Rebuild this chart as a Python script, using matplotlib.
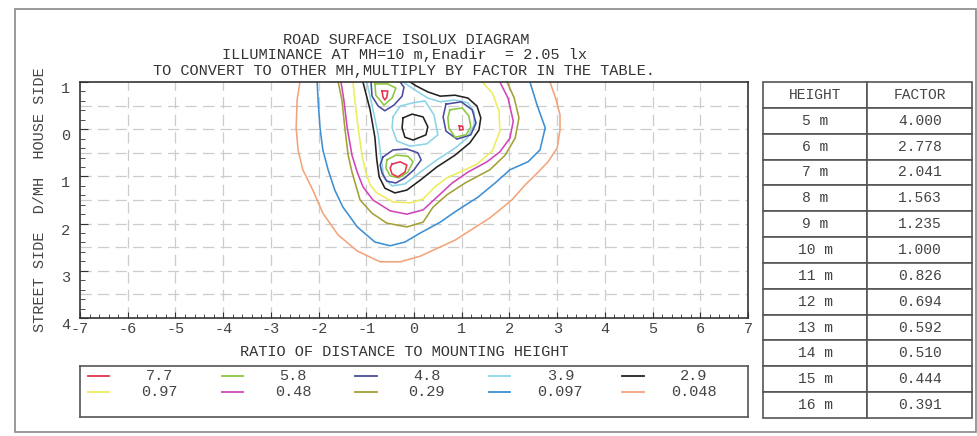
import matplotlib
matplotlib.use('Agg')
import matplotlib.pyplot as plt
from matplotlib.patches import Rectangle
from matplotlib.ticker import MultipleLocator, FixedLocator, FixedFormatter
import numpy as np

plt.rcParams['font.family'] = ['Liberation Mono', 'DejaVu Sans Mono']
plt.rcParams['axes.unicode_minus'] = False

# isolux levels (lx), legend order and colours
levels = [7.7, 5.8, 4.8, 3.9, 2.9, 0.97, 0.48, 0.29, 0.097, 0.048]
level_labels = ['7.7', '5.8', '4.8', '3.9', '2.9', '0.97', '0.48', '0.29', '0.097', '0.048']
colors = ['#e5334f', '#8cc63e', '#4b4b9e', '#8ad4e8', '#222222',
          '#eded5a', '#d046b8', '#a3a034', '#3d8fd4', '#f2a47a']

# mounting height table
heights = ['5 m', '6 m', '7 m', '8 m', '9 m', '10 m', '11 m', '12 m', '13 m', '14 m', '15 m', '16 m']
factors = ['4.000', '2.778', '2.041', '1.563', '1.235', '1.000', '0.826', '0.694', '0.592', '0.510', '0.444', '0.391']

# isolux lines, (x/MH, d/MH); y=-1 is the house-side edge
lux_77 = [
    [(-0.67, -0.81), (-0.55, -0.81), (-0.57, -0.68), (-0.61, -0.62), (-0.65, -0.68)],
    [(0.95, -0.07), (1.02, -0.06), (1.03, 0.01), (0.96, 0.02)],
    [(-0.46, 0.74), (-0.29, 0.69), (-0.15, 0.76), (-0.19, 0.91), (-0.34, 1.01), (-0.46, 0.95), (-0.50, 0.82)],
]
lux_58 = [
    [(-0.82, -0.96), (-0.80, -0.72), (-0.63, -0.51), (-0.46, -0.66), (-0.38, -0.87), (-0.55, -0.96)],
    [(0.75, -0.41), (1.01, -0.45), (1.15, -0.28), (1.19, -0.05), (1.09, 0.12), (0.86, 0.17), (0.73, -0.03), (0.71, -0.24)],
    [(-0.57, 0.65), (-0.38, 0.55), (-0.13, 0.57), (-0.02, 0.69), (-0.13, 0.91), (-0.31, 1.03), (-0.50, 0.99), (-0.59, 0.82)],
]
lux_48 = [
    [(-0.90, -1.00), (-0.88, -0.70), (-0.75, -0.49), (-0.61, -0.39), (-0.42, -0.51), (-0.25, -0.70), (-0.21, -0.89), (-0.29, -1.00)],
    [(0.67, -0.53), (0.99, -0.58), (1.22, -0.41), (1.30, -0.13), (1.19, 0.12), (0.90, 0.21), (0.67, 0.04), (0.61, -0.26)],
    [(-0.65, 0.59), (-0.44, 0.44), (-0.15, 0.42), (0.08, 0.50), (0.15, 0.65), (0.00, 0.86), (-0.19, 1.03),
     (-0.38, 1.14), (-0.57, 1.10), (-0.67, 0.93), (-0.71, 0.76)],
]
lux_39 = [
    [(-0.99, -1.00), (-0.88, -0.51), (-0.75, 0.12), (-0.69, 0.61), (-0.63, 1.03), (-0.46, 1.20), (-0.19, 1.16),
     (0.13, 0.91), (0.48, 0.65), (0.86, 0.40), (1.11, 0.19), (1.26, -0.09), (1.26, -0.36), (1.13, -0.56),
     (0.86, -0.62), (0.55, -0.58), (0.29, -0.66), (0.02, -0.83), (-0.23, -1.00)],
    [(-0.44, -0.26), (-0.29, -0.49), (-0.02, -0.56), (0.23, -0.60), (0.42, -0.30), (0.50, 0.12), (0.27, 0.31),
     (-0.08, 0.36), (-0.36, 0.25), (-0.46, -0.03)],
]
lux_29 = [
    [(-1.07, -1.00), (-0.92, -0.41), (-0.82, 0.17), (-0.78, 0.65), (-0.73, 1.01), (-0.61, 1.25), (-0.40, 1.35),
     (-0.15, 1.29), (0.13, 1.08), (0.48, 0.80), (0.86, 0.55), (1.17, 0.29), (1.36, 0.02), (1.40, -0.24),
     (1.32, -0.49), (1.13, -0.66), (0.86, -0.72), (0.55, -0.70), (0.29, -0.79), (0.04, -0.92), (-0.08, -1.00)],
    [(-0.23, -0.24), (-0.04, -0.32), (0.19, -0.26), (0.29, -0.05), (0.25, 0.12), (-0.02, 0.23), (-0.19, 0.17), (-0.25, -0.03)],
]
lux_097 = [
    [(-1.28, -1.00), (-1.24, -0.62), (-1.17, -0.03), (-1.09, 0.55), (-1.01, 0.91), (-0.92, 1.18), (-0.78, 1.35),
     (-0.44, 1.54), (-0.08, 1.56), (0.19, 1.48), (0.44, 1.22), (0.69, 1.03), (0.96, 0.91), (1.32, 0.74),
     (1.64, 0.46), (1.80, 0.04), (1.78, -0.39), (1.64, -0.77), (1.43, -1.00)],
]
lux_048 = [
    [(-1.53, -1.00), (-1.47, -0.62), (-1.40, -0.03), (-1.30, 0.55), (-1.19, 0.91), (-1.07, 1.22), (-0.86, 1.50),
     (-0.50, 1.73), (-0.15, 1.80), (0.19, 1.71), (0.48, 1.44), (0.80, 1.14), (1.13, 0.91), (1.53, 0.69),
     (1.80, 0.48), (2.01, 0.19), (2.08, -0.17), (1.97, -0.66), (1.80, -1.00)],
]
lux_029 = [
    [(-1.59, -1.00), (-1.51, -0.62), (-1.45, -0.03), (-1.38, 0.55), (-1.30, 0.91), (-1.13, 1.50), (-0.88, 1.78),
     (-0.57, 1.99), (-0.15, 2.07), (0.19, 1.97), (0.40, 1.65), (0.69, 1.39), (1.07, 1.14), (1.59, 0.86),
     (1.91, 0.55), (2.12, 0.19), (2.20, -0.24), (2.10, -0.66), (1.95, -1.00)],
]
lux_0097 = [
    [(-2.03, -1.00), (-2.01, -0.62), (-1.97, -0.03), (-1.91, 0.44), (-1.80, 0.86), (-1.66, 1.29), (-1.49, 1.65),
     (-1.19, 2.07), (-0.82, 2.39), (-0.50, 2.47), (-0.19, 2.39), (0.13, 2.20), (0.55, 1.97), (0.86, 1.75),
     (1.34, 1.44), (1.70, 1.14), (2.01, 0.86), (2.39, 0.69), (2.64, 0.44), (2.75, -0.03), (2.58, -0.51), (2.43, -1.00)],
]
lux_0048 = [
    [(-2.39, -1.00), (-2.45, -0.62), (-2.47, -0.03), (-2.43, 0.44), (-2.33, 0.86), (-2.12, 1.29), (-1.91, 1.78),
     (-1.59, 2.24), (-1.19, 2.58), (-0.71, 2.81), (-0.29, 2.81), (0.13, 2.69), (0.86, 2.35), (1.59, 1.88),
     (2.05, 1.50), (2.33, 1.18), (2.60, 0.91), (2.81, 0.69), (3.00, 0.40), (3.06, 0.02), (3.06, -0.30),
     (2.98, -0.62), (2.85, -1.00)],
]
isolines = [lux_77, lux_58, lux_48, lux_39, lux_29, lux_097, lux_048, lux_029, lux_0097, lux_0048]

txt_col = '#444444'

fig = plt.figure(figsize=(9.78, 4.36), dpi=100)
fig.patches.append(Rectangle((15 / 978, 4 / 436), 961 / 978, 423 / 436, transform=fig.transFigure,
                             fill=False, edgecolor='#888888', linewidth=1.2))

ax = fig.add_axes([80 / 978, 1 - 318 / 436, 668 / 978, 236 / 436])

for yv in np.arange(-0.5, 4.0, 0.5):
    ax.axhline(yv, color='#cccccc', lw=0.9, ls=(0, (9, 5)), zorder=0)
for xv in range(-6, 7):
    ax.axvline(xv, color='#cccccc', lw=0.9, ls=(0, (9, 5)), zorder=0)

for curves, col in zip(isolines[::-1], colors[::-1]):
    for curve in curves:
        xs = [p[0] for p in curve]
        ys = [p[1] for p in curve]
        if ys[0] > -1.0:
            xs = xs + xs[:1]
            ys = ys + ys[:1]
        ax.plot(xs, ys, color=col, lw=1.15, solid_joinstyle='round')

ax.set_xlim(-7, 7)
ax.set_ylim(4, -1)
ax.xaxis.set_major_locator(MultipleLocator(1))
ax.xaxis.set_minor_locator(MultipleLocator(0.2))
ax.yaxis.set_major_locator(FixedLocator([-1, 0, 1, 2, 3, 4]))
ax.yaxis.set_major_formatter(FixedFormatter(['1', '0', '1', '2', '3', '4']))
ax.yaxis.set_minor_locator(MultipleLocator(0.2))
ax.tick_params(which='both', direction='in', colors='#333333', labelsize=11, labelcolor=txt_col)
ax.tick_params(axis='y', which='major', length=6, pad=7)
ax.tick_params(axis='y', which='minor', length=3.5)
ax.tick_params(axis='x', which='major', length=4, pad=3)
ax.tick_params(axis='x', which='minor', length=3)
for sp in ax.spines.values():
    sp.set_color('#333333')
    sp.set_linewidth(1.2)
for lab in ax.get_yticklabels():
    lab.set_verticalalignment('top')

fig.text(406 / 978, 1 - 40 / 436, 'ROAD SURFACE ISOLUX DIAGRAM', ha='center', va='center', fontsize=11, color='#333333')
fig.text(404 / 978, 1 - 55 / 436, 'ILLUMINANCE AT MH=10 m,Enadir  = 2.05 lx', ha='center', va='center', fontsize=11, color='#333333')
fig.text(404 / 978, 1 - 71 / 436, 'TO CONVERT TO OTHER MH,MULTIPLY BY FACTOR IN THE TABLE.', ha='center', va='center', fontsize=11, color='#333333')
fig.text(404 / 978, 1 - 352 / 436, 'RATIO OF DISTANCE TO MOUNTING HEIGHT', ha='center', va='center', fontsize=11, color='#333333')
fig.text(40 / 978, 1 - 200 / 436, 'STREET SIDE  D/MH  HOUSE SIDE', rotation=90, ha='center', va='center', fontsize=11, color=txt_col)

# legend box under the plot: two rows of five entries
lax = fig.add_axes([80 / 978, 1 - 417 / 436, 668 / 978, 51 / 436])
lax.set_xlim(0, 5)
lax.set_ylim(0, 1)
lax.set_xticks([])
lax.set_yticks([])
for sp in lax.spines.values():
    sp.set_color('#555555')
    sp.set_linewidth(1.2)
for k, (lab, col) in enumerate(zip(level_labels, colors)):
    col_i = k % 5
    row_y = 0.80 if k < 5 else 0.49
    lax.plot([col_i + 0.06, col_i + 0.22], [row_y, row_y], color=col, lw=1.3)
    lax.text(col_i + 0.595, row_y, lab, ha='center', va='center', fontsize=11, color=txt_col)

# factor table
tax = fig.add_axes([763 / 978, 1 - 418 / 436, 209 / 978, 336 / 436])
tax.axis('off')
tbl = tax.table(cellText=[[h, f] for h, f in zip(heights, factors)], colLabels=['HEIGHT', 'FACTOR'],
                cellLoc='center', bbox=[0, 0, 1, 1])
tbl.auto_set_font_size(False)
tbl.set_fontsize(10.5)
for cell in tbl.get_celld().values():
    cell.set_edgecolor('#555555')
    cell.set_linewidth(1.2)
    cell.get_text().set_color(txt_col)

fig.savefig('out.png', dpi=100)
